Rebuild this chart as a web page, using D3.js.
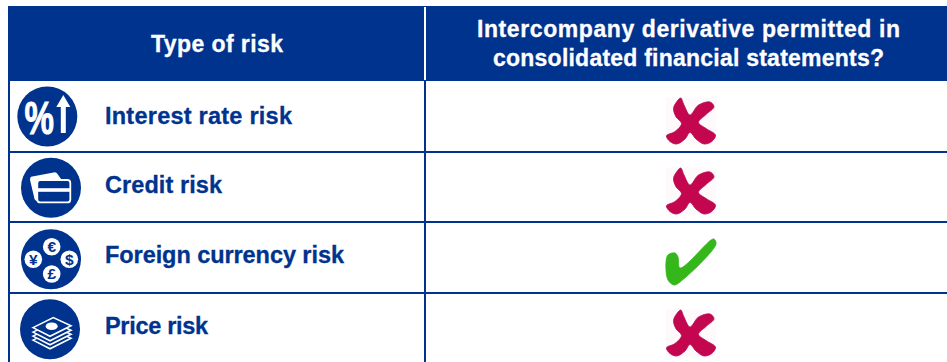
<!DOCTYPE html>
<html>
<head>
<meta charset="utf-8">
<script src="https://cdn.jsdelivr.net/npm/d3@7"></script>
<style>
  html, body { margin: 0; padding: 0; background: #fff; }
  svg { display: block; }
  text { font-family: "Liberation Sans", sans-serif; font-weight: bold; }
</style>
</head>
<body>
<div id="chart"></div>
<script>
const columns = ["Type of risk", "Permitted"];
const headerLeft = "Type of risk";
const headerRight = ["Intercompany derivative permitted in", "consolidated financial statements?"];
const risks = ["Interest rate risk", "Credit risk", "Foreign currency risk", "Price risk"];
const permitted = [false, false, true, false];
const iconKinds = ["percent", "card", "currency", "money"];

const width = 947, height = 362;
const blue = "#00338d";

const svg = d3.select("#chart").append("svg")
    .attr("width", width)
    .attr("height", height)
    .attr("viewBox", `0 0 ${width} ${height}`);

const x = d3.scaleOrdinal().domain(columns).range([9, 425]);
const y = d3.scaleBand().domain(risks).range([81, 363]);

// header
svg.append("rect")
    .attr("x", 8).attr("y", 6)
    .attr("width", width - 8).attr("height", 75)
    .attr("fill", blue);

svg.append("line")
    .attr("x1", x("Permitted")).attr("x2", x("Permitted"))
    .attr("y1", 7).attr("y2", 80)
    .attr("stroke", "#fff").attr("stroke-width", 2);

svg.append("text")
    .attr("x", 217).attr("y", 52)
    .attr("text-anchor", "middle")
    .attr("fill", "#fff").attr("stroke", "#fff").attr("stroke-width", 0.3)
    .attr("font-size", 23)
    .attr("textLength", 132)
    .text(headerLeft);

const headerWidths = [423, 391];
svg.selectAll(".head-right")
    .data(headerRight)
  .join("text")
    .attr("class", "head-right")
    .attr("x", 688.5)
    .attr("y", (d, i) => 37 + i * 29)
    .attr("text-anchor", "middle")
    .attr("fill", "#fff").attr("stroke", "#fff").attr("stroke-width", 0.3)
    .attr("font-size", 23)
    .attr("textLength", (d, i) => headerWidths[i])
    .text(d => d);

// grid
svg.selectAll(".row-line")
    .data(risks.slice(1))
  .join("line")
    .attr("class", "row-line")
    .attr("x1", 8).attr("x2", width)
    .attr("y1", d => Math.round(y(d) + 0.1)).attr("y2", d => Math.round(y(d) + 0.1))
    .attr("stroke", blue).attr("stroke-width", 2);

svg.selectAll(".col-line")
    .data(columns)
  .join("line")
    .attr("class", "col-line")
    .attr("x1", d => x(d)).attr("x2", d => x(d))
    .attr("y1", 81).attr("y2", height)
    .attr("stroke", blue).attr("stroke-width", 2);

// row labels
const rows = svg.selectAll(".row")
    .data(risks)
  .join("g")
    .attr("class", "row")
    .attr("transform", d => `translate(0,${y(d)})`);

const labelWidths = [187, 117, 239, 103];
const labelBase = [42.5, 41.3, 41, 41.5];

rows.append("text")
    .attr("x", 105)
    .attr("y", (d, i) => labelBase[i])
    .attr("fill", blue).attr("stroke", blue).attr("stroke-width", 0.3)
    .attr("font-size", 23.5)
    .attr("textLength", (d, i) => labelWidths[i])
    .text(d => d);

// icons
const iconPos = [[47.3, 35.5], [51, 36.2], [51, 37.3], [50, 36.8]];
const icons = rows.append("g")
    .attr("transform", (d, i) => `translate(${iconPos[i][0]},${iconPos[i][1]})`);

icons.append("circle").attr("r", 30).attr("fill", blue);

icons.each(function(d, i) {
  const g = d3.select(this);
  const kind = iconKinds[i];
  if (kind === "percent") {
    g.append("text")
      .attr("transform", "translate(-8,17) scale(0.72,1)")
      .attr("text-anchor", "middle")
      .attr("fill", "#fff").attr("stroke", "#fff").attr("stroke-width", 1)
      .attr("font-size", 46)
      .text("%");
    g.append("path")
      .attr("fill", "#fff")
      .attr("d", "M16,-21.5L23,-9.5H18.5V16.5H13.5V-9.5H9Z");
  } else if (kind === "card") {
    g.append("path")
      .attr("fill", "#fff")
      .attr("d", "M-20,-11L4,-15.5Q6,-15.5 7,-13L12,-6L-10,14L-15,13Q-17,12 -17,9L-21,-8Q-21,-10 -20,-11Z");
    g.append("rect")
      .attr("x", -13.7).attr("y", -7.7).attr("width", 33).attr("height", 22.4).attr("rx", 3)
      .attr("fill", blue).attr("stroke", "#fff").attr("stroke-width", 1.8);
    g.append("rect")
      .attr("x", -13.7).attr("y", 0.5).attr("width", 33).attr("height", 3.6)
      .attr("fill", "#fff");
  } else if (kind === "currency") {
    const coins = [["€", 0.7, -12.6], ["¥", -17.7, 0], ["$", 18.3, 0], ["£", 0.7, 14.7]];
    coins.forEach(c => {
      g.append("circle").attr("cx", c[1]).attr("cy", c[2]).attr("r", 8.8).attr("fill", "#fff");
      g.append("text")
        .attr("x", c[1]).attr("y", c[2] + 5.4)
        .attr("text-anchor", "middle")
        .attr("fill", blue)
        .attr("font-size", 15.5)
        .text(c[0]);
    });
  } else {
    [12.5, 8.5, 4.5, 0].forEach(dy => {
      g.append("path")
        .attr("transform", `translate(0,${dy})`)
        .attr("fill", blue).attr("stroke", "#fff").attr("stroke-width", 1.6)
        .attr("d", "M-17,-1.7L3.3,-11.7L21,-3.5L0,7Z");
    });
    g.append("ellipse")
      .attr("cx", 1.7).attr("cy", -3).attr("rx", 6).attr("ry", 3.8)
      .attr("fill", "#fff");
  }
});

// cross and tick glyphs, outline in glyph units around their centre
const crossShape = [[-10.3,-23],[-7,-16],[-1,-6],[7.3,-15.8],[19,-19],[23,-14.2],[15,-6.5],[7.5,1.5],[15,7.5],[24.5,14.2],[20.7,20.5],[13,23],[5,18],[-1,11.5],[-6,18],[-14.3,23],[-21,20.5],[-24.5,14.8],[-16,10.5],[-9.5,2.5],[-15,-4.2],[-17.5,-12.5],[-14.3,-19.2]];
const tickShape = [[23,-23],[25,-18],[-11,20],[-17,23],[-23,18],[-25,0],[-23,-7],[-16,-9],[-13,-5],[-11,6],[20,-22]];
const outline = d3.line().curve(d3.curveCatmullRomClosed.alpha(0.5));

const markX = 691;
const markOffset = [40, 39.5, 40, 40.5];

const marks = rows.append("g")
    .attr("transform", (d, i) => `translate(${markX},${markOffset[i]})`);

marks.filter((d, i) => !permitted[i]).append("rect")
    .attr("x", -25).attr("y", -23.5).attr("width", 50).attr("height", 47)
    .attr("fill", "#fefafc");

marks.append("path")
    .attr("d", (d, i) => outline(permitted[i] ? tickShape : crossShape))
    .attr("fill", (d, i) => permitted[i] ? "#35b61a" : "#c4064f")
    .attr("stroke", (d, i) => permitted[i] ? "#35b61a" : "#b30a58")
    .attr("stroke-width", 0.8);
</script>
</body>
</html>
